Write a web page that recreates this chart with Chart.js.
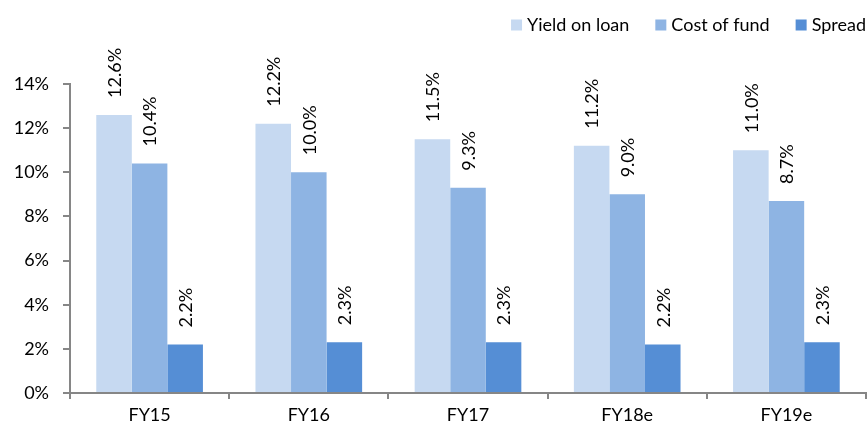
<!DOCTYPE html>
<html>
<head>
<meta charset="utf-8">
<script src="https://cdn.jsdelivr.net/npm/chart.js@4/dist/chart.umd.min.js"></script>
<style>
  html, body { margin: 0; padding: 0; background: #fff; }
  #wrap { width: 867px; height: 428px; }
</style>
</head>
<body>
<div id="wrap"><canvas id="spreadChart"></canvas></div>
<script>
// yields, funding cost and spread by financial year (%)
const years = ['FY15', 'FY16', 'FY17', 'FY18e', 'FY19e'];
const yieldOnLoan = [12.6, 12.2, 11.5, 11.2, 11.0];
const costOfFund = [10.4, 10.0, 9.3, 9.0, 8.7];
const spread = [2.2, 2.3, 2.3, 2.2, 2.3];
const yTicks = [0, 2, 4, 6, 8, 10, 12, 14];

const FONT = 'Lato, "Open Sans", sans-serif';
const AXIS = '#868686';

// value printed vertically above each bar
const barLabels = {
    id: 'barLabels',
    afterDatasetsDraw(chart) {
        const ctx = chart.ctx;
        ctx.save();
        ctx.font = '18px ' + FONT;
        ctx.fillStyle = '#000';
        ctx.textAlign = 'left';
        ctx.textBaseline = 'middle';
        chart.data.datasets.forEach((ds, i) => {
            chart.getDatasetMeta(i).data.forEach((bar, j) => {
                ctx.save();
                ctx.translate(bar.x + 1, bar.y - 17);
                ctx.rotate(-Math.PI / 2);
                ctx.fillText(ds.data[j].toFixed(1) + '%', 0, 0);
                ctx.restore();
            });
        });
        ctx.restore();
    }
};

// legend in the top right corner
const topLegend = {
    id: 'topLegend',
    afterDraw(chart) {
        const ctx = chart.ctx;
        ctx.save();
        ctx.font = '18px ' + FONT;
        ctx.textAlign = 'left';
        ctx.textBaseline = 'middle';
        const cy = 25;
        let right = chart.width - 1;
        const items = chart.data.datasets.slice().reverse();
        items.forEach(ds => {
            const w = ctx.measureText(ds.label).width;
            const tx = right - w;
            const bx = tx - 5 - 11;
            ctx.fillStyle = ds.backgroundColor;
            ctx.fillRect(bx, cy - 5.5, 11, 11);
            ctx.fillStyle = '#000';
            ctx.fillText(ds.label, tx, cy);
            right = bx - 26;
        });
        ctx.restore();
    }
};

new Chart(document.getElementById('spreadChart'), {
    type: 'bar',
    data: {
        labels: years,
        datasets: [
            { label: 'Yield on loan', data: yieldOnLoan, backgroundColor: '#C6D9F1' },
            { label: 'Cost of fund', data: costOfFund, backgroundColor: '#8EB4E3' },
            { label: 'Spread', data: spread, backgroundColor: '#558ED5' }
        ]
    },
    options: {
        responsive: true,
        maintainAspectRatio: false,
        animation: false,
        layout: { padding: { top: 84, right: 1, left: 0, bottom: 0 } },
        datasets: {
            bar: { categoryPercentage: 0.67, barPercentage: 1.0 }
        },
        plugins: {
            legend: { display: false },
            tooltip: { enabled: false }
        },
        scales: {
            x: {
                grid: {
                    offset: true,
                    drawOnChartArea: false,
                    drawTicks: true,
                    tickLength: 6,
                    color: AXIS,
                    lineWidth: 2
                },
                border: { color: AXIS, width: 2 },
                ticks: {
                    color: '#000',
                    padding: 5,
                    font: { family: FONT, size: 18 }
                },
                afterFit(scale) { scale.height = 35; }
            },
            y: {
                min: 0,
                max: 14,
                afterBuildTicks(scale) {
                    scale.ticks = yTicks.map(v => ({ value: v }));
                },
                grid: {
                    drawOnChartArea: false,
                    drawTicks: true,
                    tickLength: 7,
                    color: AXIS,
                    lineWidth: 2
                },
                border: { color: AXIS, width: 2 },
                ticks: {
                    color: '#000',
                    padding: 14,
                    font: { family: FONT, size: 18 },
                    callback: v => v + '%'
                },
                afterFit(scale) { scale.width = 70; }
            }
        }
    },
    plugins: [barLabels, topLegend]
});
</script>
</body>
</html>
